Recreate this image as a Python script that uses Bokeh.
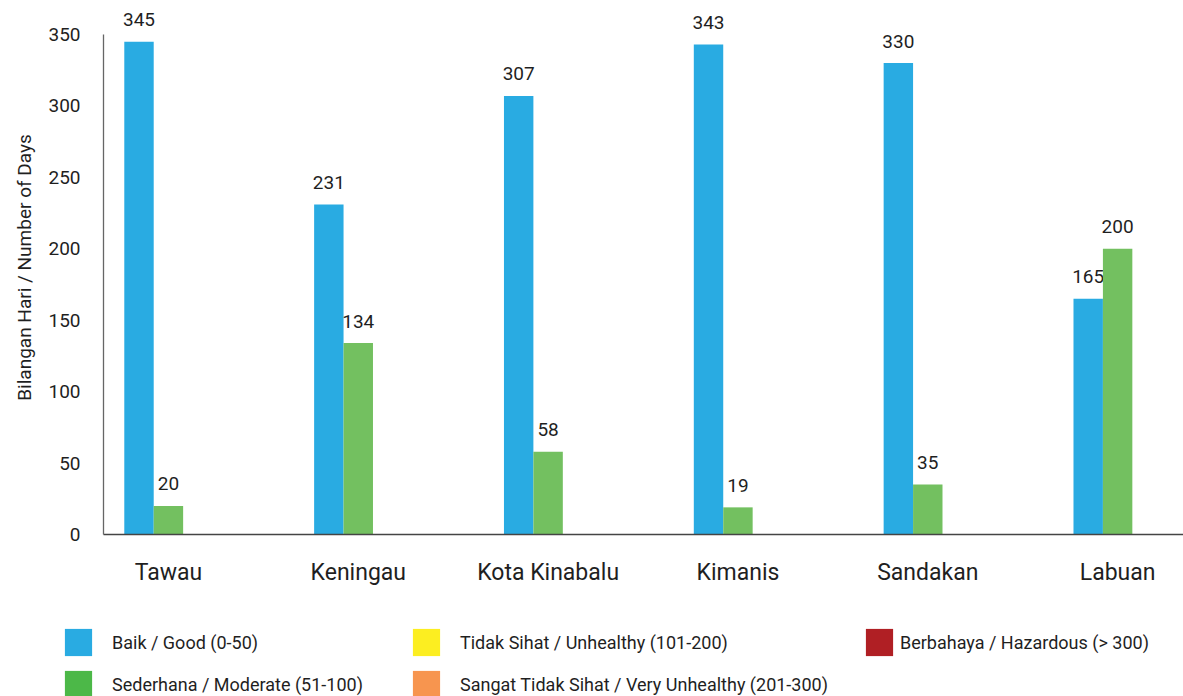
import math
from bokeh.plotting import figure
from bokeh.layouts import column
from bokeh.models import (ColumnDataSource, Range1d, FixedTicker, Legend, LegendItem, Title)
from bokeh.core.properties import value
from bokeh.embed import file_html
from bokeh.resources import INLINE

# ---- data ----
stations = ["Tawau", "Keningau", "Kota Kinabalu", "Kimanis", "Sandakan", "Labuan"]
baik = [345, 231, 307, 343, 330, 165]          # Baik / Good (0-50)
sederhana = [20, 134, 58, 19, 35, 200]          # Sederhana / Moderate (51-100)
legend_labels = [
    "Baik / Good (0-50)",
    "Sederhana / Moderate (51-100)",
    "Tidak Sihat / Unhealthy (101-200)",
    "Sangat Tidak Sihat / Very Unhealthy (201-300)",
    "Berbahaya / Hazardous (> 300)",
]
y_ticks = [0, 50, 100, 150, 200, 250, 300, 350]
y_max = 350

# ---- style ----
FONT = "Roboto"
TXT = "#1f1f1f"
bar_colors = ["#29ABE2", "#73C060"]
legend_colors = ["#29ABE2", "#4CB848", "#FCEE21", "#F7954F", "#B01F24"]
bar_w = 0.155

W = 1183
H1 = 600
p = figure(width=W, height=H1, output_backend="svg", toolbar_location=None,
           x_range=Range1d(-0.342, 5.347), y_range=Range1d(0, y_max * 534 / 500),
           min_border_left=102, min_border_top=0, min_border_bottom=H1 - 534,
           min_border_right=0)
p.outline_line_color = None
p.grid.visible = False

xs = list(range(len(stations)))
for k, (vals, col) in enumerate(zip([baik, sederhana], bar_colors)):
    off = (k - 1) * bar_w
    src = ColumnDataSource(dict(x=[i + off for i in xs], top=vals,
                                lab=[str(v) for v in vals]))
    p.vbar(x="x", top="top", width=bar_w, source=src, fill_color=col, line_color=None)
    p.text(x="x", y="top", text="lab", source=src, text_align="center",
           text_baseline="middle", y_offset=-22, text_font=value(FONT),
           text_font_size="19px", text_color=TXT)

# axes
xa = p.xaxis[0]
xa.ticker = FixedTicker(ticks=xs)
xa.major_label_overrides = {i: s for i, s in enumerate(stations)}
xa.major_tick_line_color = None
xa.minor_tick_line_color = None
xa.major_tick_out = 0
xa.major_label_standoff = 24
xa.major_label_text_font = FONT
xa.major_label_text_font_size = "23px"
xa.major_label_text_color = TXT
xa.axis_line_color = "#444444"
xa.axis_line_width = 1.3

ya = p.yaxis[0]
ya.ticker = FixedTicker(ticks=y_ticks)
ya.bounds = (0, y_max)
ya.major_tick_line_color = None
ya.minor_tick_line_color = None
ya.major_tick_out = 0
ya.major_label_standoff = 23
ya.major_label_text_font = FONT
ya.major_label_text_font_size = "19px"
ya.major_label_text_color = TXT
ya.axis_line_color = "#666666"
ya.axis_line_width = 1.3

p.add_layout(Title(text="Bilangan Hari / Number of Days", align="center", offset=30,
                   text_font=FONT, text_font_size="19px", text_font_style="normal",
                   text_color=TXT, standoff=20), "left")

# legend figure (proxy renderers)
H2 = 696 - H1
q = figure(width=W, height=H2, output_backend="svg", toolbar_location=None,
           x_range=Range1d(0, 1), y_range=Range1d(0, 1), min_border=0)
q.outline_line_color = None
q.grid.visible = False
q.axis.visible = False

frame_shift = 0
if "frame_align" in q.properties():
    p.frame_align = False
    q.frame_align = False
else:
    frame_shift = 102

positions = [(61, 37, 17), (61, -5, 17), (409, 37, 17), (409, -5, 17), (862, 37, 4)]
for lab, col, (lx, ly, st) in zip(legend_labels, legend_colors, positions):
    r = q.vbar(x=[0], top=[0], width=0.001, fill_color=col, line_color=None)
    lg = Legend(items=[LegendItem(label=lab, renderers=[r])], location=(lx - frame_shift, ly),
                padding=0, margin=0, border_line_color=None, background_fill_alpha=0,
                glyph_width=34, glyph_height=34, label_standoff=st,
                label_text_font=FONT, label_text_font_size="18px",
                label_text_color=TXT, label_text_baseline="middle")
    q.add_layout(lg, "center")

layout = column(p, q, spacing=0)
open("out.html", "w").write(file_html(layout, INLINE))
